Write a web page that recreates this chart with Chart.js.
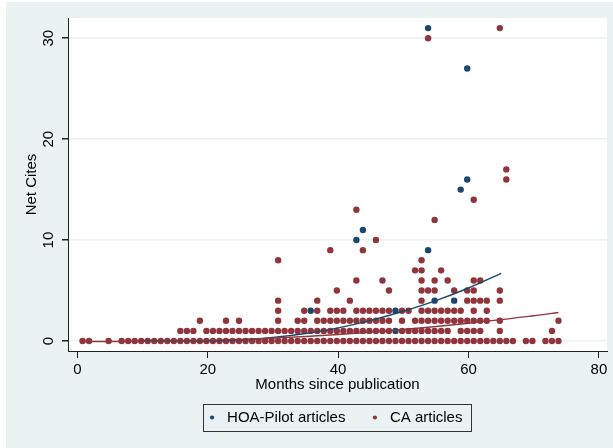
<!DOCTYPE html>
<html>
<head>
<meta charset="utf-8">
<script src="https://cdn.jsdelivr.net/npm/chart.js@4"></script>
<style>
  html, body { margin: 0; padding: 0; background: #fff; }
  #wrap { width: 613px; height: 448px; }
</style>
</head>
<body>
<div id="wrap"><canvas id="citesChart" width="613" height="448"></canvas></div>
<script>
// Datos: meses desde la publicación por nivel de citas netas
const caZero = [0.8, 1.8, 4.8, 6.8, 7.8, 8.8, 9.8, 10.8, 11.8, 12.8, 13.8, 14.8, 15.8, 16.8, 17.8, 18.8, 19.8,
  20.8, 21.8, 22.8, 23.8, 24.8, 25.8, 26.8, 27.8, 28.8, 29.8, 30.8, 31.8, 32.8, 33.8, 34.8, 35.8, 36.8, 37.8,
  38.8, 39.8, 40.8, 41.8, 42.8, 43.8, 44.8, 45.8, 46.8, 47.8, 48.8, 49.8, 50.8, 51.8, 52.8, 53.8, 54.8, 55.8,
  56.8, 57.8, 58.8, 59.8, 60.8, 61.8, 62.8, 63.8, 64.8, 65.8, 66.8, 68.8, 69.8, 71.8, 72.8, 73.8];
const caOne = [15.8, 16.8, 17.8, 19.8, 20.8, 21.8, 22.8, 23.8, 24.8, 25.8, 26.8, 27.8, 28.8, 29.8, 30.8, 31.8,
  32.8, 33.8, 34.8, 35.8, 36.8, 37.8, 38.8, 39.8, 40.8, 41.8, 42.8, 43.8, 44.8, 45.8, 46.8, 47.8, 49.8, 50.8,
  51.8, 52.8, 53.8, 54.8, 55.8, 56.8, 58.8, 59.8, 60.8, 61.8, 64.8, 72.8];
const caTwo = [18.8, 22.8, 24.8, 30.8, 33.8, 34.8, 36.8, 37.8, 38.8, 39.8, 40.8, 41.8, 42.8, 43.8, 44.8, 45.8,
  46.8, 47.8, 49.8, 51.8, 52.8, 53.8, 54.8, 55.8, 56.8, 57.8, 58.8, 59.8, 60.8, 61.8, 62.8, 64.8, 73.8];
const caThree = [30.8, 34.8, 36.8, 38.8, 39.8, 40.8, 42.8, 43.8, 44.8, 45.8, 46.8, 47.8, 49.8, 50.8, 52.8,
  53.8, 54.8, 55.8, 56.8, 57.8, 58.8, 60.8, 62.8];
const caFour = [30.8, 36.8, 41.8, 52.8, 59.8, 60.8, 61.8, 62.8, 64.8];
const caFive = [39.8, 47.8, 52.8, 53.8, 54.8, 57.8, 59.8, 60.8, 64.8];
const caSix = [42.8, 46.8, 52.8, 54.8, 56.8, 60.8, 61.8];
const caSeven = [51.8, 52.8, 55.8];
const caOutlierMonths = [30.8, 52.8, 38.8, 43.8, 45.8, 54.8, 42.8, 60.8, 65.8, 65.8, 53.8, 64.8];
const caOutlierCites = [8, 8, 9, 9, 10, 12, 13, 14, 16, 17, 30, 31];

const hoaMonths = [35.8, 42.8, 43.8, 48.8, 48.8, 53.8, 53.8, 54.8, 57.8, 58.8, 59.8, 59.8];
const hoaCites = [3, 10, 11, 1, 3, 9, 31, 4, 4, 15, 16, 27];

// Curvas ajustadas
const hoaFitMonths = [9.8, 15, 20, 25, 30, 35, 40, 45, 50, 55, 60, 65];
const hoaFitCites = [0.05, 0, 0, 0.1, 0.35, 0.75, 1.3, 2.05, 2.95, 4.0, 5.25, 6.7];
const caFitMonths = [0.8, 10, 20, 30, 40, 50, 60, 70, 73.8];
const caFitCites = [-0.05, -0.03, 0.06, 0.29, 0.65, 1.14, 1.76, 2.5, 2.82];

const xTickStep = 20;
const yTickStep = 10;

const navy = '#1a476f';
const maroon = '#90353b';
const bgBlue = '#eaf2f3';
const fontFamily = "'Liberation Sans', Arial, Helvetica, sans-serif";

function toPoints(months, cites) {
    return months.map((m, i) => ({ x: m, y: Array.isArray(cites) ? cites[i] : cites }));
}

const caPoints = [].concat(
    toPoints(caZero, 0), toPoints(caOne, 1), toPoints(caTwo, 2), toPoints(caThree, 3),
    toPoints(caFour, 4), toPoints(caFive, 5), toPoints(caSix, 6), toPoints(caSeven, 7),
    toPoints(caOutlierMonths, caOutlierCites)
);

// Fondo estilo Stata: región exterior azulada, área de trazado blanca
const backgroundPlugin = {
    id: 'stataBackground',
    afterLayout(chart) {
        // la leyenda de Stata queda un poco a la izquierda del centro del área
        if (chart.legend) {
            chart.legend.left -= 8;
        }
    },
    beforeDraw(chart) {
        const { ctx, chartArea } = chart;
        ctx.save();
        ctx.fillStyle = '#ffffff';
        ctx.fillRect(0, 0, chart.width, chart.height);
        ctx.fillStyle = bgBlue;
        ctx.fillRect(6, 2, chart.width - 6, chart.height - 2);
        ctx.fillStyle = '#ffffff';
        ctx.fillRect(chartArea.left, chartArea.top, chartArea.right - chartArea.left, chartArea.bottom - chartArea.top);
        ctx.restore();
    }
};

// Marco alrededor de la leyenda
const legendBoxPlugin = {
    id: 'legendBox',
    afterDraw(chart) {
        const boxes = chart.legend && chart.legend.legendHitBoxes;
        if (!boxes || !boxes.length) return;
        const first = boxes[0];
        const last = boxes[boxes.length - 1];
        const cy = first.top + first.height / 2;
        const left = Math.round(first.left - 1.5) + 0.5;
        const right = Math.round(last.left + last.width + 9) + 0.5;
        const top = Math.round(cy - 13.5) + 0.5;
        const ctx = chart.ctx;
        ctx.save();
        ctx.strokeStyle = '#333333';
        ctx.lineWidth = 1;
        ctx.strokeRect(left, top, right - left, 27);
        ctx.restore();
    }
};

const ctx = document.getElementById('citesChart').getContext('2d');
const citesChart = new Chart(ctx, {
    type: 'scatter',
    data: {
        datasets: [
            {
                label: 'HOA-Pilot articles',
                data: toPoints(hoaMonths, hoaCites),
                backgroundColor: navy,
                borderColor: navy,
                borderWidth: 0,
                pointRadius: 3.2,
                pointHoverRadius: 3.2,
                order: 3
            },
            {
                label: 'CA articles',
                data: caPoints,
                backgroundColor: maroon,
                borderColor: maroon,
                borderWidth: 0,
                pointRadius: 3.2,
                pointHoverRadius: 3.2,
                order: 2
            },
            {
                label: 'HOA fit',
                data: toPoints(hoaFitMonths, hoaFitCites),
                showLine: true,
                borderColor: navy,
                borderWidth: 1.4,
                pointRadius: 0,
                tension: 0.35,
                fill: false,
                order: 1
            },
            {
                label: 'CA fit',
                data: toPoints(caFitMonths, caFitCites),
                showLine: true,
                borderColor: maroon,
                borderWidth: 1.4,
                pointRadius: 0,
                tension: 0.35,
                fill: false,
                order: 0
            }
        ]
    },
    options: {
        responsive: false,
        animation: false,
        devicePixelRatio: 1,
        layout: { padding: { top: 18, right: 6, bottom: 13, left: 0 } },
        plugins: {
            tooltip: { enabled: false },
            legend: {
                position: 'bottom',
                fullSize: false,
                labels: {
                    usePointStyle: true,
                    pointStyle: 'circle',
                    boxWidth: 15,
                    boxHeight: 3,
                    padding: 22,
                    color: '#000',
                    font: { family: fontFamily, size: 15 },
                    filter: item => item.datasetIndex < 2,
                    sort: (a, b) => a.datasetIndex - b.datasetIndex
                }
            }
        },
        scales: {
            x: {
                type: 'linear',
                min: -1.43,
                max: 81.24,
                ticks: {
                    stepSize: xTickStep,
                    includeBounds: false,
                    maxRotation: 0,
                    padding: 3,
                    color: '#000',
                    font: { family: fontFamily, size: 15 }
                },
                grid: { drawOnChartArea: false, drawTicks: true, tickLength: 7, tickColor: '#222' },
                border: { display: true, color: '#222', width: 1 },
                title: {
                    display: true,
                    text: 'Months since publication',
                    color: '#000',
                    font: { family: fontFamily, size: 15 },
                    padding: { top: 0, bottom: -6.2 }
                },
                afterFit: scale => { scale.height = 37; }
            },
            y: {
                type: 'linear',
                min: -0.99,
                max: 32.0,
                ticks: {
                    stepSize: yTickStep,
                    includeBounds: false,
                    minRotation: 90,
                    maxRotation: 90,
                    crossAlign: 'center',
                    padding: 4.5,
                    color: '#000',
                    font: { family: fontFamily, size: 15 }
                },
                grid: { color: bgBlue, lineWidth: 1.5, drawTicks: true, tickLength: 6, tickColor: '#222' },
                border: { display: true, color: '#222', width: 1 },
                title: {
                    display: true,
                    text: 'Net Cites',
                    color: '#000',
                    font: { family: fontFamily, size: 15 },
                    padding: { top: 22.7, bottom: 0 }
                },
                afterFit: scale => { scale.width = 68; }
            }
        }
    },
    plugins: [backgroundPlugin, legendBoxPlugin]
});
</script>
</body>
</html>
